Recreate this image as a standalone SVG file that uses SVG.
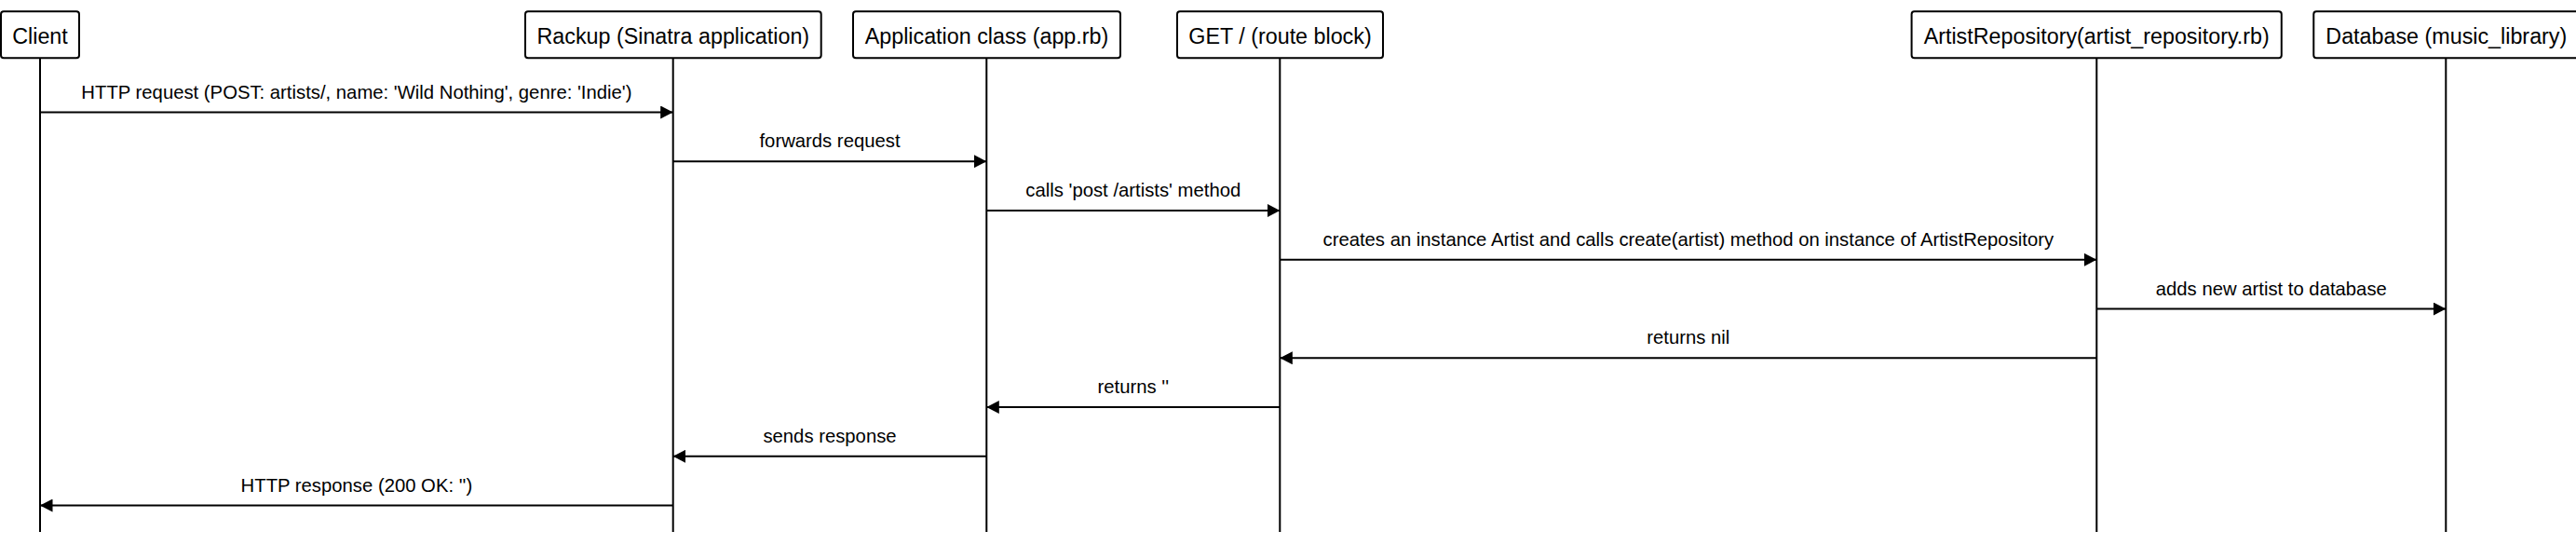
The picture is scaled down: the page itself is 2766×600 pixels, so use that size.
<svg xmlns="http://www.w3.org/2000/svg" width="2766" height="600" viewBox="0 0 2766 600">
  <defs>
    <style>
      .box { fill: #ffffff; stroke: #000000; stroke-width: 2; }
      .life { stroke: #000000; stroke-width: 2; fill: none; }
      .msg { stroke: #000000; stroke-width: 2; fill: none; marker-end: url(#arrow); }
      .atext { font-family: "Liberation Sans", Arial, sans-serif; font-size: 23.3px; fill: #000000; text-anchor: middle; }
      .mtext { font-family: "Liberation Sans", Arial, sans-serif; font-size: 20.3px; fill: #000000; text-anchor: middle; }
    </style>
    <marker id="arrow" markerUnits="userSpaceOnUse" markerWidth="14" markerHeight="14" refX="13.5" refY="7" orient="auto">
      <path d="M0,0 L13.5,7 L0,14 z" fill="#000000"/>
    </marker>
  </defs>
  <rect width="2766" height="600" fill="#ffffff"/>

  <g id="lifelines">
    <line class="life" x1="43" y1="62" x2="43" y2="571"/>
    <line class="life" x1="722.7" y1="62" x2="722.7" y2="571"/>
    <line class="life" x1="1059.3" y1="62" x2="1059.3" y2="571"/>
    <line class="life" x1="1374.3" y1="62" x2="1374.3" y2="571"/>
    <line class="life" x1="2251.3" y1="62" x2="2251.3" y2="571"/>
    <line class="life" x1="2626.3" y1="62" x2="2626.3" y2="571"/>
  </g>

  <g id="client">
    <rect class="box" x="1" y="12.3" width="84" height="50" rx="3"/>
    <text class="atext" x="43" y="46.8">Client</text>
  </g>
  <g id="rackup">
    <rect class="box" x="564" y="12.3" width="317.7" height="50" rx="3"/>
    <text class="atext" x="722.8" y="46.8">Rackup (Sinatra application)</text>
  </g>
  <g id="app">
    <rect class="box" x="916" y="12.3" width="287" height="50" rx="3"/>
    <text class="atext" x="1059.5" y="46.8">Application class (app.rb)</text>
  </g>
  <g id="route">
    <rect class="box" x="1264" y="12.3" width="221" height="50" rx="3"/>
    <text class="atext" x="1374.5" y="46.8">GET / (route block)</text>
  </g>
  <g id="repository">
    <rect class="box" x="2052.6" y="12.3" width="397.2" height="50" rx="3"/>
    <text class="atext" x="2251.2" y="46.8">ArtistRepository(artist_repository.rb)</text>
  </g>
  <g id="database">
    <rect class="box" x="2484.3" y="12.3" width="285" height="50" rx="3"/>
    <text class="atext" x="2626.8" y="46.8">Database (music_library)</text>
  </g>

  <g id="connectors">
    <line class="msg" x1="43" y1="120.5" x2="722.7" y2="120.5"/>
    <text class="mtext" x="382.9" y="105.5">HTTP request (POST: artists/, name: 'Wild Nothing', genre: 'Indie')</text>

    <line class="msg" x1="722.7" y1="173.25" x2="1059.3" y2="173.25"/>
    <text class="mtext" x="891" y="158.25">forwards request</text>

    <line class="msg" x1="1059.3" y1="226" x2="1374.3" y2="226"/>
    <text class="mtext" x="1216.8" y="211">calls 'post /artists' method</text>

    <line class="msg" x1="1374.3" y1="278.75" x2="2251.3" y2="278.75"/>
    <text class="mtext" x="1812.8" y="263.75">creates an instance Artist and calls create(artist) method on instance of ArtistRepository</text>

    <line class="msg" x1="2251.3" y1="331.5" x2="2626.3" y2="331.5"/>
    <text class="mtext" x="2438.8" y="316.5">adds new artist to database</text>

    <line class="msg" x1="2251.3" y1="384.25" x2="1374.3" y2="384.25"/>
    <text class="mtext" x="1812.8" y="369.25">returns nil</text>

    <line class="msg" x1="1374.3" y1="437" x2="1059.3" y2="437"/>
    <text class="mtext" x="1216.8" y="422">returns ''</text>

    <line class="msg" x1="1059.3" y1="489.75" x2="722.7" y2="489.75"/>
    <text class="mtext" x="891" y="474.75">sends response</text>

    <line class="msg" x1="722.7" y1="542.5" x2="43" y2="542.5"/>
    <text class="mtext" x="382.9" y="527.5">HTTP response (200 OK: '')</text>
  </g>
</svg>
